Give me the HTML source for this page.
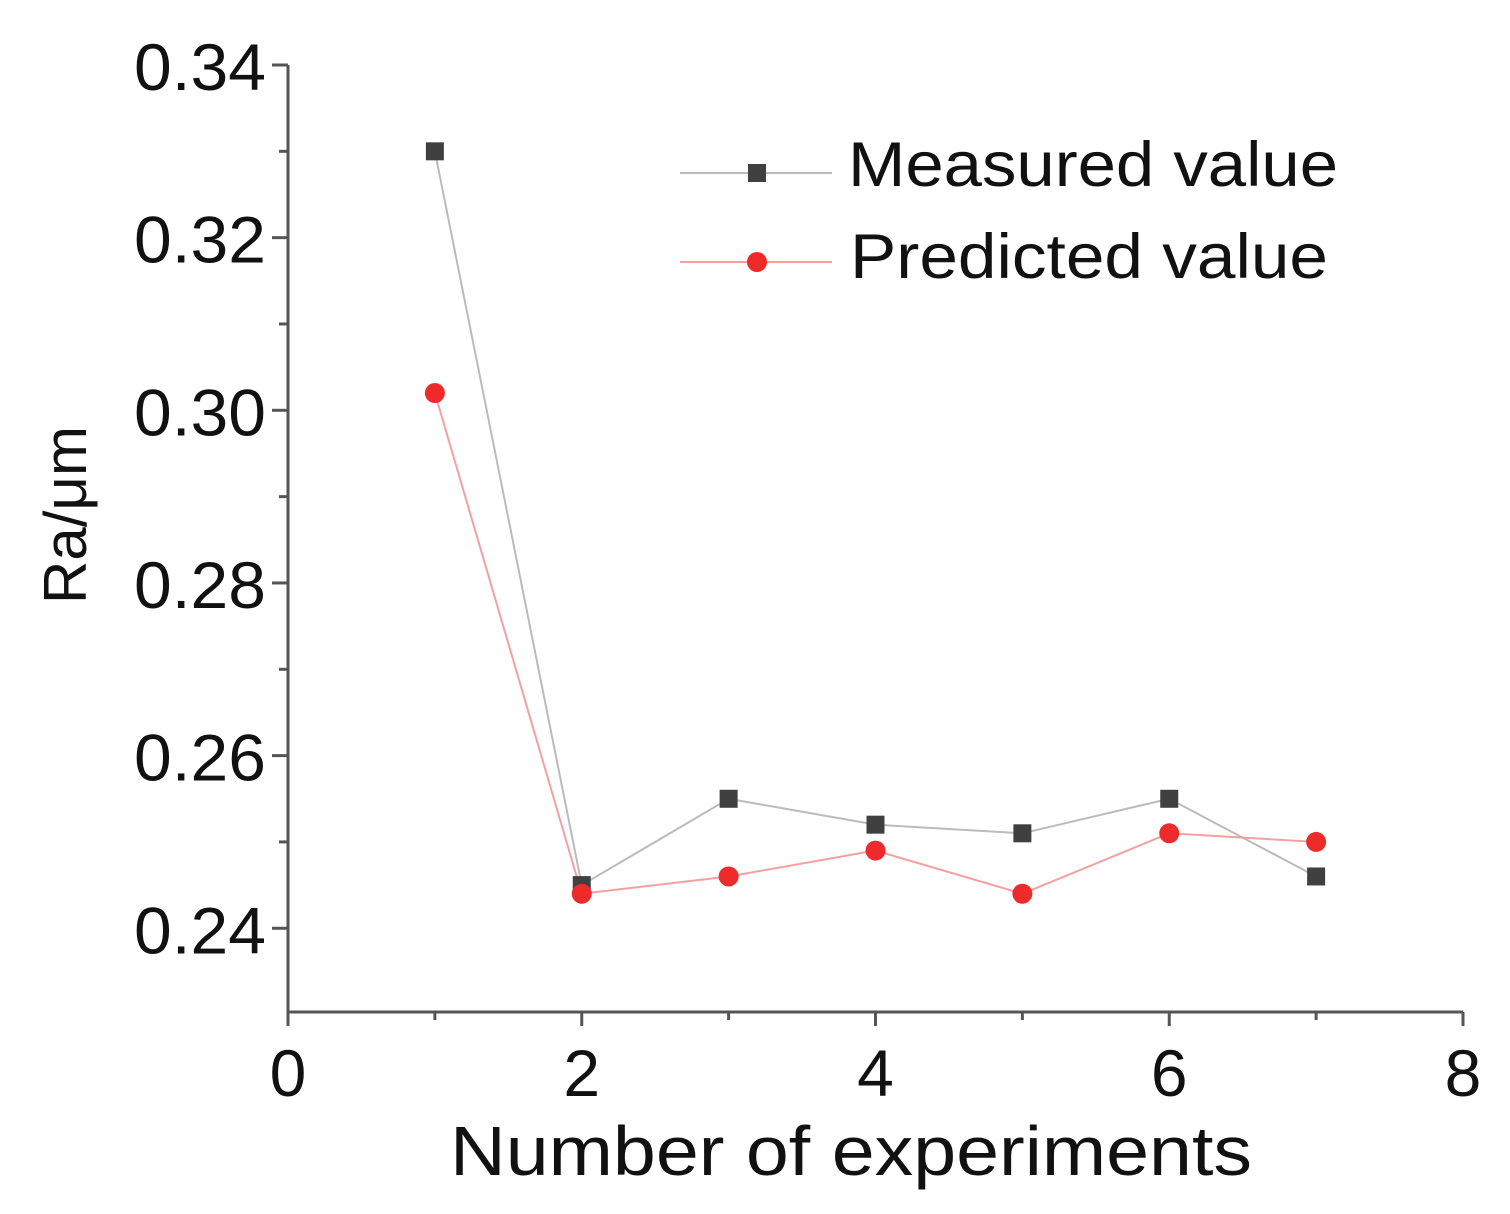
<!DOCTYPE html>
<html><head><meta charset="utf-8"><style>
html,body{margin:0;padding:0;background:#fff;}
svg text{font-family:"Liberation Sans",sans-serif;fill:#111;}
</style></head><body>
<svg id="chart" width="1510" height="1209" viewBox="0 0 1510 1209" xmlns="http://www.w3.org/2000/svg">
<g id="axes"></g>
<g id="series"></g>
<g id="legend">
  <line x1="680" y1="173" x2="832" y2="173" stroke="#bbb" stroke-width="2"/>
  <rect x="748" y="164" width="18" height="18" fill="#404040"/>
  <text x="848" y="186" font-size="63" textLength="490" lengthAdjust="spacingAndGlyphs">Measured value</text>
  <line x1="680" y1="262" x2="832" y2="262" stroke="#f4a0a0" stroke-width="2"/>
  <circle cx="757" cy="262" r="10" fill="#ee2a2a"/>
  <text x="850" y="278" font-size="63" textLength="478" lengthAdjust="spacingAndGlyphs">Predicted value</text>
</g>
<text x="450" y="1175" font-size="70" textLength="802" lengthAdjust="spacingAndGlyphs">Number of experiments</text>
<text transform="translate(86,515) rotate(-90)" font-size="60" text-anchor="middle">Ra/μm</text>
</svg>
<script>
const experiments=[1,2,3,4,5,6,7];
const measured=[0.330,0.245,0.255,0.252,0.251,0.255,0.246];
const predicted=[0.302,0.244,0.246,0.249,0.244,0.251,0.250];
const xTicks=[0,2,4,6,8];
const yTicks=[0.24,0.26,0.28,0.30,0.32,0.34];
const yTickLabels=["0.24","0.26","0.28","0.30","0.32","0.34"];

const NS="http://www.w3.org/2000/svg";
const X0=288,X1=1463,Y0=1012,YTOP=65;
const xMin=0,xMax=8,yMin=0.2303,yMax=0.34;
function sx(v){return X0+(v-xMin)/(xMax-xMin)*(X1-X0);}
function sy(v){return Y0-(v-yMin)/(yMax-yMin)*(Y0-YTOP);}
function mk(tag,attrs,parent){const e=document.createElementNS(NS,tag);for(const k in attrs)e.setAttribute(k,attrs[k]);parent.appendChild(e);return e;}
const axes=document.getElementById('axes');
const series=document.getElementById('series');
let e;
e=mk('line',{x1:X0,y1:Y0,x2:X1,y2:Y0,stroke:'#555','stroke-width':3},axes);


e=mk('line',{x1:X0,y1:Y0+1,x2:X0,y2:YTOP,stroke:'#555','stroke-width':3},axes);


xTicks.forEach(t=>{
  e=mk('line',{x1:sx(t),y1:Y0,x2:sx(t),y2:Y0+14,stroke:'#555','stroke-width':3},axes);
  
  
  e=mk('text',{x:sx(t),y:1096,'font-size':66,'text-anchor':'middle'},axes);
  e.textContent=String(t);
  
  
});
for(let t=1;t<8;t+=2){
  e=mk('line',{x1:sx(t),y1:Y0,x2:sx(t),y2:Y0+8,stroke:'#555','stroke-width':3},axes);
  
  
}
yTicks.forEach((t,i)=>{
  e=mk('line',{x1:X0-16,y1:sy(t),x2:X0,y2:sy(t),stroke:'#555','stroke-width':3},axes);
  
  
  e=mk('text',{x:266,y:sy(t)+25,'font-size':66,'text-anchor':'end',textLength:132,lengthAdjust:'spacingAndGlyphs'},axes);
  e.textContent=yTickLabels[i];
  
  
  if(i<yTicks.length-1){
    e=mk('line',{x1:X0-9,y1:sy(t+0.01),x2:X0,y2:sy(t+0.01),stroke:'#555','stroke-width':3},axes);
    
    
  }
});
e=mk('polyline',{points:experiments.map((x,i)=>sx(x)+','+sy(measured[i])).join(' '),fill:'none',stroke:'#bbb','stroke-width':2},series);


e=mk('polyline',{points:experiments.map((x,i)=>sx(x)+','+sy(predicted[i])).join(' '),fill:'none',stroke:'#f4a0a0','stroke-width':2},series);


experiments.forEach((x,i)=>{
  e=mk('rect',{x:sx(x)-9,y:sy(measured[i])-9,width:18,height:18,fill:'#404040'},series);
  
  
});
experiments.forEach((x,i)=>{
  e=mk('circle',{cx:sx(x),cy:sy(predicted[i]),r:10,fill:'#ee2a2a'},series);
  
  
});
</script>
</body></html>
